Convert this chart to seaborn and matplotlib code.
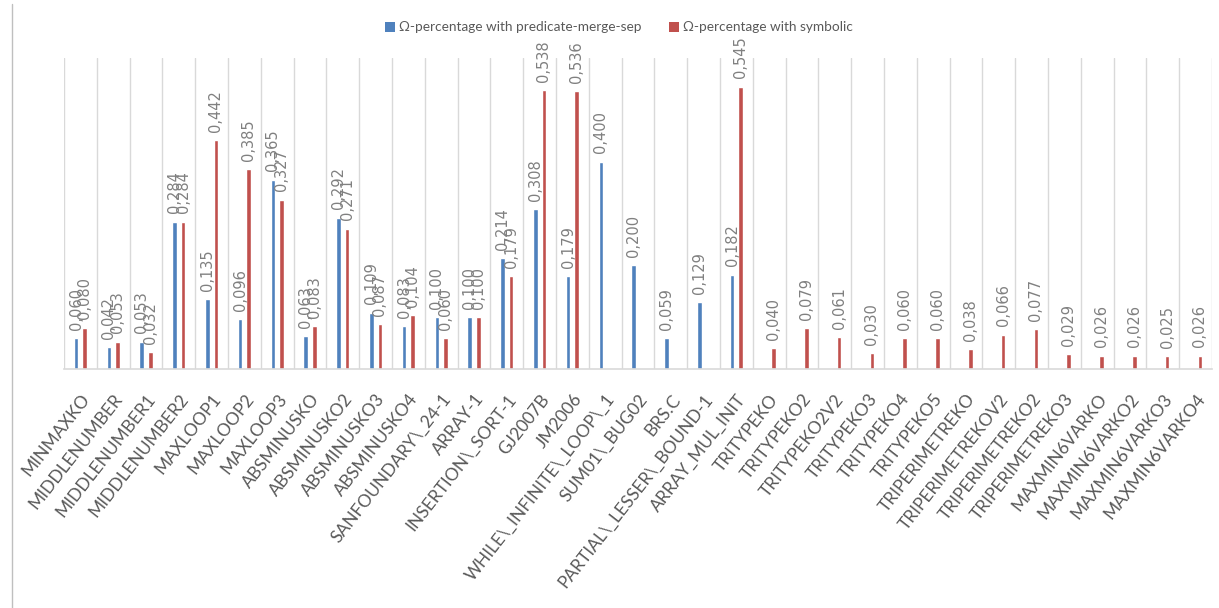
import matplotlib
matplotlib.use("Agg")
import matplotlib.pyplot as plt
from matplotlib.lines import Line2D
from matplotlib.patches import Patch
import numpy as np
import pandas as pd
import seaborn as sns

# Benchmark programs (x axis)
programs = [
    "MINMAXKO", "MIDDLENUMBER", "MIDDLENUMBER1", "MIDDLENUMBER2", "MAXLOOP1",
    "MAXLOOP2", "MAXLOOP3", "ABSMINUSKO", "ABSMINUSKO2", "ABSMINUSKO3",
    "ABSMINUSKO4", "SANFOUNDARY\\_24-1", "ARRAY-1", "INSERTION\\_SORT-1",
    "GJ2007B", "JM2006", "WHILE\\_INFINITE\\_LOOP\\_1", "SUM01\\_BUG02", "BRS.C",
    "PARTIAL\\_LESSER\\_BOUND-1", "ARRAY_MUL_INIT", "TRITYPEKO", "TRITYPEKO2",
    "TRITYPEKO2V2", "TRITYPEKO3", "TRITYPEKO4", "TRITYPEKO5", "TRIPERIMETREKO",
    "TRIPERIMETREKOV2", "TRIPERIMETREKO2", "TRIPERIMETREKO3", "MAXMIN6VARKO",
    "MAXMIN6VARKO2", "MAXMIN6VARKO3", "MAXMIN6VARKO4",
]

nan = np.nan
# Omega-percentage, predicate-merge-sep
pms_values = [
    0.060, 0.042, 0.053, 0.284, 0.135, 0.096, 0.365, 0.063, 0.292, 0.109,
    0.083, 0.100, 0.100, 0.214, 0.308, 0.179, 0.400, 0.200, 0.059, 0.129,
    0.182, nan, nan, nan, nan, nan, nan, nan, nan, nan, nan, nan, nan, nan, nan,
]
# Omega-percentage, symbolic
sym_values = [
    0.080, 0.053, 0.032, 0.284, 0.442, 0.385, 0.327, 0.083, 0.271, 0.087,
    0.104, 0.060, 0.100, 0.179, 0.538, 0.536, nan, nan, nan, nan,
    0.545, 0.040, 0.079, 0.061, 0.030, 0.060, 0.060, 0.038, 0.066, 0.077,
    0.029, 0.026, 0.026, 0.025, 0.026,
]

series_names = ["Ω-percentage with predicate-merge-sep", "Ω-percentage with symbolic"]
palette = {series_names[0]: "#4f81bd", series_names[1]: "#c0504d"}

df = pd.concat([
    pd.DataFrame({"program": programs, "value": pms_values, "series": series_names[0]}),
    pd.DataFrame({"program": programs, "value": sym_values, "series": series_names[1]}),
], ignore_index=True)

sns.set_theme(style="white")
plt.rcParams["font.family"] = ["DejaVu Sans"]

fig = plt.figure(figsize=(12.19, 6.08), dpi=100)
ax = fig.add_axes([64 / 1219, 1 - 369 / 608, (1212 - 64) / 1219, (369 - 58) / 608])

sns.barplot(
    data=df, x="program", y="value", hue="series", order=programs,
    hue_order=series_names, palette=palette, width=0.52, gap=0.45,
    errorbar=None, saturation=1, ax=ax, legend=False,
)

# Rotated value labels above each bar
fmt = lambda v: f"{v:.3f}".replace(".", ",")
for cont in ax.containers:
    ax.bar_label(cont, fmt=fmt, rotation=90, padding=6, fontsize=10.5,
                 color="#808080")

ax.set_ylim(0, 0.6)
ax.set_xlim(-0.5, len(programs) - 0.5)
ax.set_xlabel("")
ax.set_ylabel("")
ax.set_yticks([])

# Vertical separators between categories
ax.set_xticks(np.arange(-0.5, len(programs)), minor=True)
ax.grid(which="minor", axis="x", color="#d9d9d9", linewidth=1)
ax.grid(which="major", visible=False)
ax.tick_params(axis="x", which="both", length=0)
ax.tick_params(axis="x", which="major", pad=16)
ax.set_xticks(range(len(programs)))
ax.set_xticklabels(programs, rotation=52, ha="right", rotation_mode="anchor",
                   fontsize=12.5, color="#595959", family="Lato")

for side in ["top", "left", "right"]:
    ax.spines[side].set_visible(False)
ax.spines["bottom"].set_color("#d9d9d9")
ax.spines["bottom"].set_linewidth(1.2)

handles = [Patch(facecolor=palette[n], edgecolor="none") for n in series_names]
fig.legend(handles, series_names, loc="center", bbox_to_anchor=(0.508, 0.955),
           ncol=2, frameon=False, handlelength=0.75, handleheight=0.75,
           handletextpad=0.3, columnspacing=2.0,
           prop={"family": "Lato", "size": 9.8}, labelcolor="#595959")

# Outer chart border on the left
fig.add_artist(Line2D([11.5 / 1219, 11.5 / 1219], [1 - 4 / 608, 0], color="#bfbfbf",
                      linewidth=1, transform=fig.transFigure))

fig.savefig("out.png", dpi=100)
